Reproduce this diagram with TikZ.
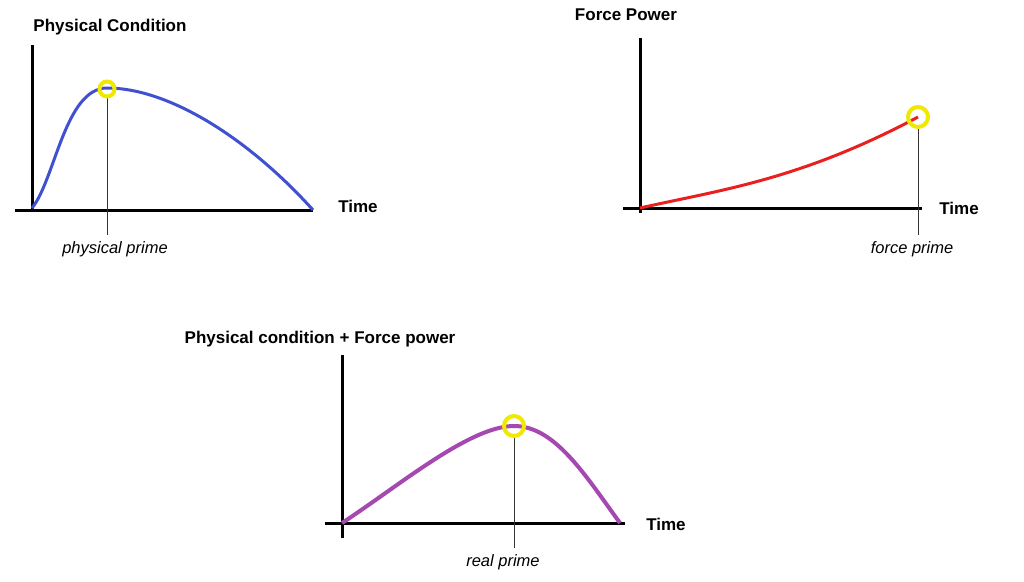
\documentclass[tikz,border=0pt]{standalone}
\usepackage{fontspec}
\setmainfont{Liberation Sans}
\definecolor{cblue}{HTML}{4050D0}
\definecolor{cpurp}{HTML}{A548B0}
\definecolor{cred}{HTML}{E82020}
\definecolor{cyel}{HTML}{F0E800}
\begin{document}
\begin{tikzpicture}[x=1pt,y=-1pt,
 axis/.style={line width=3pt},
 curve/.style={line width=3pt},
 prime/.style={line width=4pt,cyel},
 guide/.style={line width=0.5pt,black!80},
 ttl/.style={font=\fontsize{17}{19}\selectfont\bfseries},
 lbl/.style={font=\fontsize{16.5}{18}\selectfont\itshape},
 tlab/.style={font=\fontsize{17}{19}\selectfont\bfseries}]
\useasboundingbox[fill=white] (0,0) rectangle (1024,581);
% Chart 1
\node[ttl] (t1) at (110,27) {Physical Condition};
\draw[axis] (32,45) -- (32,212);
\draw[axis] (15,210) -- (313,210);
\node[tlab] (x1) at (358,206) {Time};
\draw[curve,cblue] (32,208) .. controls (55,180) and (65,88) .. (107,88) .. controls (170,88) and (250,140) .. (313,210);
\coordinate (p1) at (107,97);
\coordinate (b1) at (107,235);
\draw[guide] (p1) -- (b1);
\draw[prime] (107,89) circle (7.5);
\node[lbl] (l1) at (115,249) {physical prime};
% Chart 2
\node[ttl] (t2) at (626,15) {Force Power};
\draw[axis] (640,38) -- (640,213);
\draw[axis] (623,208) -- (922,208);
\node[tlab] (x2) at (959,208) {Time};
\draw[curve,cred] (640,208) .. controls (720,190) and (800,180) .. (918,117);
\coordinate (p2) at (918,127);
\coordinate (b2) at (918,235);
\draw[guide] (p2) -- (b2);
\draw[prime] (918,117) circle (10);
\node[lbl] (l2) at (912,249) {force prime};
% Chart 3
\node[ttl] (t3) at (320,339) {Physical condition + Force power};
\draw[axis] (342,355) -- (342,538);
\draw[axis] (325,523) -- (625,523);
\node[tlab] (x3) at (666,524) {Time};
\draw[curve,cpurp,line width=4pt] (342,523) .. controls (400,485) and (470,426) .. (514,426) .. controls (555,426) and (585,475) .. (620,523);
\coordinate (p3) at (514,436);
\coordinate (b3) at (514,548);
\draw[guide] (p3) -- (b3);
\draw[prime] (514,426) circle (10);
\node[lbl] (l3) at (503,562) {real prime};
\end{tikzpicture}
\end{document}
